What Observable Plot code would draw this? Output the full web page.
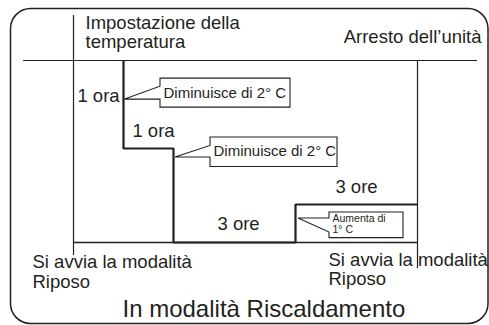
<!DOCTYPE html>
<html>
<head>
<meta charset="utf-8">
<script src="https://cdn.jsdelivr.net/npm/d3@7"></script>
<script src="https://cdn.jsdelivr.net/npm/@observablehq/plot@0.6"></script>
<style>
  html, body { margin: 0; padding: 0; background: #fff; }
  svg { display: block; }
</style>
</head>
<body>
<div id="chart"></div>
<script>
const INK = "#231f20";
const FONT = "'Liberation Sans', Arial, Helvetica, sans-serif";

// Phase boundaries of the sleep programme (hours after sleep start)
const phaseTimes = [0, 1, 2, 5, 8];
// Set-point offset levels (°C)
const tempLevels = [0, -2, -3, -4];

// Step of the set temperature
const stepTime = [1, 1, 2, 5, 8];
const stepTemp = [0, -2, -4, -3, -3];

// Duration labels
const durationLabels = ["1 ora", "1 ora", "3 ore", "3 ore"];
const durationTime = [0.5, 1.6, 3.6, 6.5];
const durationTemp = [-0.95, -1.73, -3.66, -2.8];

// Callouts
const calloutText = ["Diminuisce di 2° C", "Diminuisce di 2° C", "Aumenta di\n1° C"];
const calloutTime = [1, 2, 5];
const calloutTemp = [-0.89, -2.16, -3.37];

// Other texts
const titleText = "Impostazione della\ntemperatura";
const stopText = "Arresto dell’unità";
const startText = "Si avvia la modalità\nRiposo";
const captionText = "In modalità Riscaldamento";

const stepData = stepTime.map((t, i) => ({t, v: stepTemp[i]}));
const durationData = durationLabels.map((label, i) => ({label, t: durationTime[i], v: durationTemp[i]}));
const bigCallouts = [0, 1].map(i => ({label: calloutText[i], t: calloutTime[i], v: calloutTemp[i]}));
const smallCallouts = [2].map(i => ({label: calloutText[i], t: calloutTime[i], v: calloutTemp[i]}));

// callout outline geometry (pixels relative to anchor)
const calloutShapes = [
  {tipDx: 1, leftDx: 37, width: 130, top: -21, bottom: 8, upper: -13, lower: 0},
  {tipDx: 2, leftDx: 37, width: 127, top: -20, bottom: 9.6, upper: -11.5, lower: 0},
  {tipDx: 3, leftDx: 34, width: 74, top: -6, bottom: 19.6, upper: 0, lower: 14}
];

function calloutMark(index, scales) {
  const {x, y} = scales;
  const g = d3.create("svg:g")
    .attr("fill", "#fff")
    .attr("stroke", INK)
    .attr("stroke-width", 1.1)
    .attr("stroke-linejoin", "miter");
  calloutTime.forEach((t, i) => {
    const s = calloutShapes[i];
    const ax = x(t), ty = y(calloutTemp[i]);
    const tx = ax + s.tipDx, L = ax + s.leftDx, R = L + s.width, T = ty + s.top, B = ty + s.bottom;
    g.append("path").attr("d",
      `M${tx},${ty}L${L},${ty + s.upper}L${L},${T}L${R},${T}L${R},${B}L${L},${B}L${L},${ty + s.lower}Z`);
  });
  return g.node();
}

const FS = 18.5;
const LH = 1.05;

const chart = Plot.plot({
  width: 489,
  height: 325,
  margin: 0,
  style: {background: "#fff", color: INK, fontFamily: FONT},
  x: {type: "linear", domain: phaseTimes, range: [73, 123, 173, 295, 417], axis: null},
  y: {type: "linear", domain: tempLevels, range: [60, 148, 204, 242], axis: null},
  marks: [
    Plot.frame({insetLeft: 10, insetTop: 8, insetRight: 1.5, insetBottom: 2, rx: 20, stroke: INK, strokeWidth: 1.5}),
    Plot.ruleY([0], {insetLeft: 23, insetRight: 12, stroke: INK, strokeWidth: 1.2}),
    Plot.ruleX([0], {insetTop: 15, insetBottom: 70, stroke: INK, strokeWidth: 1.2}),
    Plot.ruleX([8], {insetTop: 60, insetBottom: 57, stroke: INK, strokeWidth: 1.2}),
    Plot.ruleY([-4], {x1: 0, x2: 8, stroke: INK, strokeWidth: 1.3}),
    Plot.line(stepData, {x: "t", y: "v", curve: "step-after", stroke: INK, strokeWidth: 2.2, strokeLinejoin: "miter", strokeLinecap: "butt"}),
    calloutMark,
    Plot.text(durationData, {x: "t", y: "v", text: "label", textAnchor: "middle", lineAnchor: "bottom", fontSize: FS, fill: INK, fontFamily: FONT}),
    Plot.text(bigCallouts, {x: "t", y: "v", text: "label", textAnchor: "start", lineAnchor: "bottom", dx: 40, dy: -1.6, fontSize: 15, fill: INK, fontFamily: FONT}),
    Plot.text(smallCallouts, {x: "t", y: "v", text: "label", textAnchor: "start", lineAnchor: "bottom", dx: 37, dy: 14, fontSize: 10.5, lineHeight: 1.05, fill: INK, fontFamily: FONT}),
    Plot.text([titleText], {frameAnchor: "top-left", textAnchor: "start", lineAnchor: "bottom", dx: 85, dy: 47.5, fontSize: FS, lineHeight: LH, fill: INK, fontFamily: FONT}),
    Plot.text([stopText], {frameAnchor: "top-right", textAnchor: "end", lineAnchor: "bottom", dx: -8, dy: 42, fontSize: FS, fill: INK, fontFamily: FONT}),
    Plot.text([startText], {frameAnchor: "top-left", textAnchor: "start", lineAnchor: "bottom", dx: 32, dy: 287, fontSize: FS, lineHeight: LH, fill: INK, fontFamily: FONT}),
    Plot.text([startText], {frameAnchor: "top-left", textAnchor: "start", lineAnchor: "bottom", dx: 328, dy: 284.5, fontSize: FS, lineHeight: LH, fill: INK, fontFamily: FONT}),
    Plot.text([captionText], {frameAnchor: "top-left", textAnchor: "start", lineAnchor: "bottom", dx: 122, dy: 316, fontSize: 24, fill: INK, fontFamily: FONT})
  ]
});

document.getElementById("chart").appendChild(chart);
</script>
</body>
</html>
